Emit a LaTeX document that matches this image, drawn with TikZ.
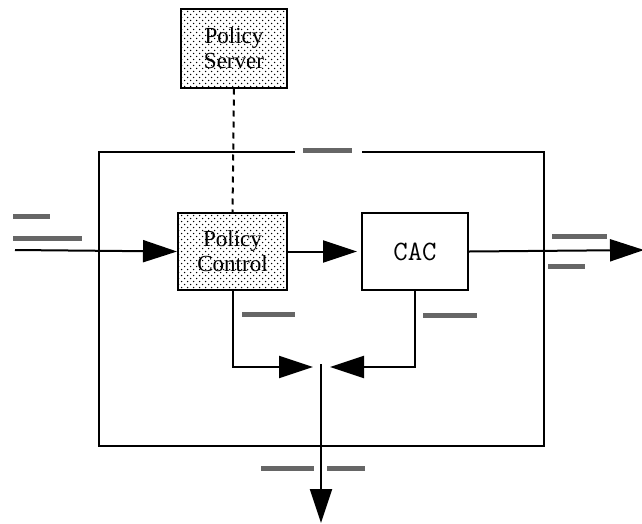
\documentclass[tikz,border=0pt]{standalone}
\usepackage{fontspec}
\setmainfont{Liberation Serif}
\usetikzlibrary{arrows.meta,patterns.meta}
\tikzdeclarepattern{
  name=sparsedots, type=uncolored,
  bottom left={(-.1pt,-.1pt)}, top right={(6.1pt,6.1pt)},
  tile size={(6pt,6pt)},
  code={\fill (1.5pt,1.5pt) circle (0.75pt); \fill (4.5pt,4.5pt) circle (0.75pt);}
}
\tikzset{
  ln/.style={line width=2pt},
  arr/.style={ln, -{Triangle[length=34pt,width=22pt]}},
  dotbox/.style={ln, draw, fill=white, postaction={pattern=sparsedots, pattern color=black},
    align=center, inner sep=0pt, font=\fontsize{23}{25}\selectfont},
  plainbox/.style={ln, draw, fill=white, inner sep=0pt, font=\ttfamily\fontsize{28}{28}\selectfont},
  greek/.style={fill=black!60, inner sep=0pt, minimum height=5pt}
}
\begin{document}
\begin{tikzpicture}[x=1pt,y=-1pt]
\useasboundingbox (0,0) rectangle (642,523);
% boxes
\node[dotbox, minimum width=106pt, minimum height=79pt] (ps) at (234,48) {Policy\\Server};
\node[dotbox, minimum width=109pt, minimum height=77pt] (pc) at (232.5,251.5) {Policy\\Control};
\node[plainbox, minimum width=106pt, minimum height=77pt] (cac) at (415,251.5) {CAC};
\node[minimum width=445pt, minimum height=294pt, inner sep=0pt] (big) at (321.5,299) {};
\draw[ln] ([xshift=-26.5pt]big.north) -| (big.south west) -| (big.north east) -- ([xshift=40.5pt]big.north);
% coordinates
\coordinate (in) at (15,250);
\coordinate (out) at (644,250);
\coordinate (m) at (321,367);
\coordinate (bot) at (321,523);
% connectors
\draw[ln, dash pattern=on 6pt off 5pt] (ps.south) -- (pc.north);
\draw[arr] (in) -- (pc.west);
\draw[arr] (pc.east) -- ([xshift=-4pt]cac.west);
\draw[arr] (cac.east) -- (out);
\draw[arr] (pc.south) |- ([xshift=-8pt]m);
\draw[arr] (cac.south) |- ([xshift=9pt]m);
\draw[arr] ([yshift=3pt]m) -- (bot);
% greeked labels
\node[greek, minimum width=37pt] (gin1) at (31.5,216) {};
\node[greek, minimum width=69pt] (gin2) at (47.5,238) {};
\node[greek, minimum width=49pt] (gtop) at (327.5,150) {};
\node[greek, minimum width=55pt] (gout1) at (579.5,236) {};
\node[greek, minimum width=37pt] (gout2) at (566.5,266) {};
\node[greek, minimum width=53pt] (gpc) at (268.5,314) {};
\node[greek, minimum width=54pt] (gcac) at (450,315) {};
\node[greek, minimum width=53pt] (gb1) at (287.5,468) {};
\node[greek, minimum width=38pt] (gb2) at (346,468) {};
\end{tikzpicture}
\end{document}
